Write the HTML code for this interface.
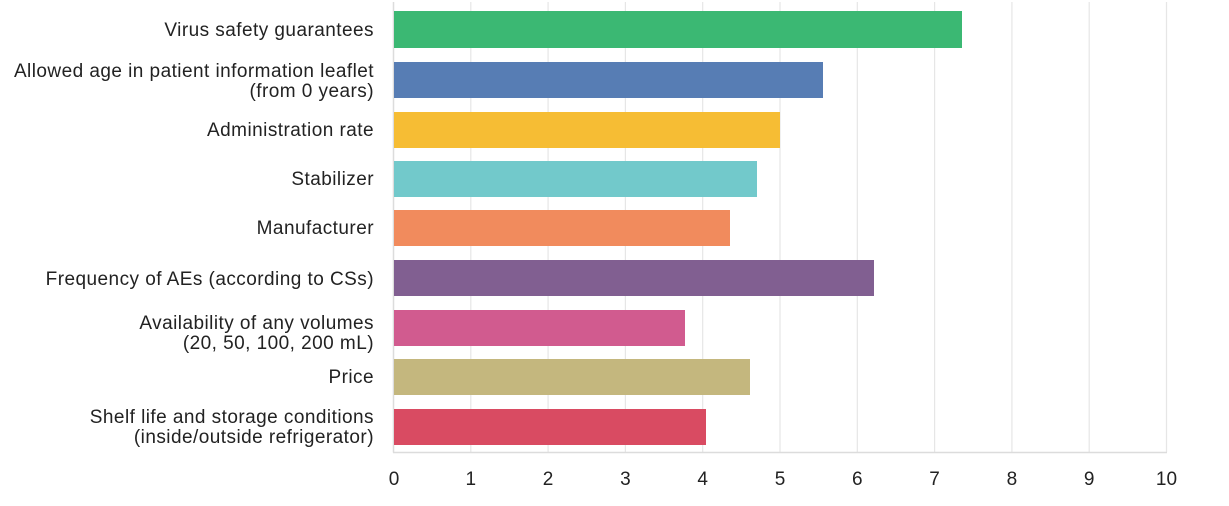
<!DOCTYPE html>
<html><head><meta charset="utf-8"><style>
body{margin:0;background:#fff;}
svg text{font-family:"Liberation Sans",Arial,sans-serif;fill:#222;}
</style></head><body>
<svg width="1229" height="501" xmlns="http://www.w3.org/2000/svg">
<g stroke="#e6e6e6" stroke-width="1.2">
<line x1="470.8" y1="2" x2="470.8" y2="452"/><line x1="548.1" y1="2" x2="548.1" y2="452"/>
<line x1="625.4" y1="2" x2="625.4" y2="452"/><line x1="702.7" y1="2" x2="702.7" y2="452"/>
<line x1="780" y1="2" x2="780" y2="452"/><line x1="857.3" y1="2" x2="857.3" y2="452"/>
<line x1="934.6" y1="2" x2="934.6" y2="452"/><line x1="1011.9" y1="2" x2="1011.9" y2="452"/>
<line x1="1089.2" y1="2" x2="1089.2" y2="452"/><line x1="1166.5" y1="2" x2="1166.5" y2="452"/>
</g>
<line x1="393.5" y1="2" x2="393.5" y2="452.5" stroke="#dcdcdc" stroke-width="1.5"/>
<line x1="393" y1="452.5" x2="1167" y2="452.5" stroke="#dcdcdc" stroke-width="1.5"/>
<rect x="394" y="11" width="568" height="37" fill="#3bb873"/>
<rect x="394" y="62" width="429" height="36" fill="#577db4"/>
<rect x="394" y="112" width="386" height="36" fill="#f6bd34"/>
<rect x="394" y="161" width="363" height="36" fill="#72c9cb"/>
<rect x="394" y="210" width="336" height="36" fill="#f18b5d"/>
<rect x="394" y="260" width="480" height="36" fill="#815f91"/>
<rect x="394" y="310" width="291" height="36" fill="#d15b8f"/>
<rect x="394" y="359" width="356" height="36" fill="#c4b77e"/>
<rect x="394" y="409" width="312" height="36" fill="#d94b62"/>
<g font-size="19" text-anchor="end" letter-spacing="0.45">
<text x="374" y="36">Virus safety guarantees</text>
<text x="374" y="77">Allowed age in patient information leaflet</text>
<text x="374" y="97">(from 0 years)</text>
<text x="374" y="136">Administration rate</text>
<text x="374" y="185">Stabilizer</text>
<text x="374" y="234">Manufacturer</text>
<text x="374" y="285">Frequency of AEs (according to CSs)</text>
<text x="374" y="329">Availability of any volumes</text>
<text x="374" y="349">(20, 50, 100, 200 mL)</text>
<text x="374" y="383">Price</text>
<text x="374" y="423">Shelf life and storage conditions</text>
<text x="374" y="443">(inside/outside refrigerator)</text>
</g>
<g font-size="19" text-anchor="middle">
<text x="394" y="485">0</text><text x="470.8" y="485">1</text><text x="548.1" y="485">2</text>
<text x="625.4" y="485">3</text><text x="702.7" y="485">4</text><text x="780" y="485">5</text>
<text x="857.3" y="485">6</text><text x="934.6" y="485">7</text><text x="1011.9" y="485">8</text>
<text x="1089.2" y="485">9</text><text x="1166.5" y="485">10</text>
</g>
</svg>
</body></html>
